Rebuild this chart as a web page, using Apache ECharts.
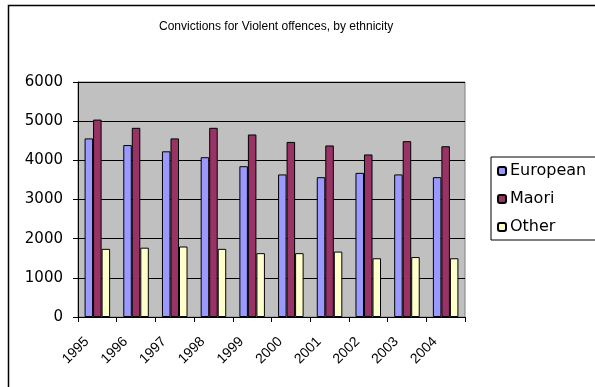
<!DOCTYPE html>
<html>
<head>
<meta charset="utf-8">
<script src="https://cdn.jsdelivr.net/npm/echarts@6/dist/echarts.min.js"></script>
<style>
html,body{margin:0;padding:0;background:#fff;}
#chart{width:595px;height:387px;}
</style>
</head>
<body>
<div id="chart"></div>
<script>
var years = ['1995','1996','1997','1998','1999','2000','2001','2002','2003','2004'];
var european = [4560, 4390, 4230, 4080, 3850, 3640, 3570, 3680, 3640, 3570];
var maori = [5040, 4830, 4560, 4830, 4660, 4470, 4380, 4150, 4490, 4360];
var other = [1740, 1770, 1800, 1740, 1630, 1630, 1670, 1500, 1530, 1500];
var yTicks = {min: 0, max: 6000, interval: 1000};

var chart = echarts.init(document.getElementById('chart'), null, {renderer: 'canvas'});
var barStyle = {borderColor: '#000', borderWidth: 1};
chart.setOption({
  animation: false,
  backgroundColor: '#fff',
  title: {
    text: 'Convictions for Violent offences, by ethnicity',
    left: 154, top: 16,
    textStyle: {fontFamily: 'Liberation Sans, Arial', fontWeight: 'normal', fontSize: 12, color: '#000'}
  },
  legend: {
    orient: 'vertical',
    left: 491, top: 157,
    itemWidth: 8, itemHeight: 8, itemGap: 10,
    padding: [5, 14, 4, 6],
    borderColor: '#000', borderWidth: 1,
    textStyle: {fontFamily: 'DejaVu Sans, Liberation Sans, Arial', fontSize: 16, lineHeight: 18, color: '#000', padding: [0, 0, 0, -1]},
    data: ['European', 'Maori', 'Other']
  },
  grid: {
    left: 78, right: 130, top: 82, bottom: 70,
    show: true, backgroundColor: '#c0c0c0', borderColor: '#808080', borderWidth: 1
  },
  xAxis: {
    type: 'category',
    data: years,
    axisLine: {lineStyle: {color: '#000', width: 1}},
    axisTick: {show: true, length: 5, lineStyle: {color: '#000'}},
    axisLabel: {rotate: 45, margin: 12, padding: [0, 15, 0, 0], fontFamily: 'Liberation Sans, Arial', fontSize: 14, color: '#000'}
  },
  yAxis: {
    type: 'value',
    min: yTicks.min, max: yTicks.max, interval: yTicks.interval,
    axisLine: {show: true, lineStyle: {color: '#000', width: 1}},
    axisTick: {show: true, length: 5, lineStyle: {color: '#000'}},
    axisLabel: {margin: 15, fontFamily: 'DejaVu Sans, Liberation Sans, Arial', fontSize: 15, color: '#000', formatter: function (v) { return String(v); }},
    splitLine: {show: true, lineStyle: {color: '#000', width: 1}}
  },
  series: [
    {name: 'European', type: 'bar', data: european, barGap: '0%', barCategoryGap: '34%', itemStyle: Object.assign({color: '#9999ff'}, barStyle)},
    {name: 'Maori', type: 'bar', data: maori, barGap: '0%', barCategoryGap: '34%', itemStyle: Object.assign({color: '#993366'}, barStyle)},
    {name: 'Other', type: 'bar', data: other, barGap: '0%', barCategoryGap: '34%', itemStyle: Object.assign({color: '#ffffcc'}, barStyle)}
  ],
  graphic: [
    {type: 'rect', left: 6, top: 3, shape: {width: 620, height: 420}, style: {fill: 'none', stroke: '#000', lineWidth: 1.5}, silent: true, z: 100}
  ]
});
</script>
</body>
</html>
